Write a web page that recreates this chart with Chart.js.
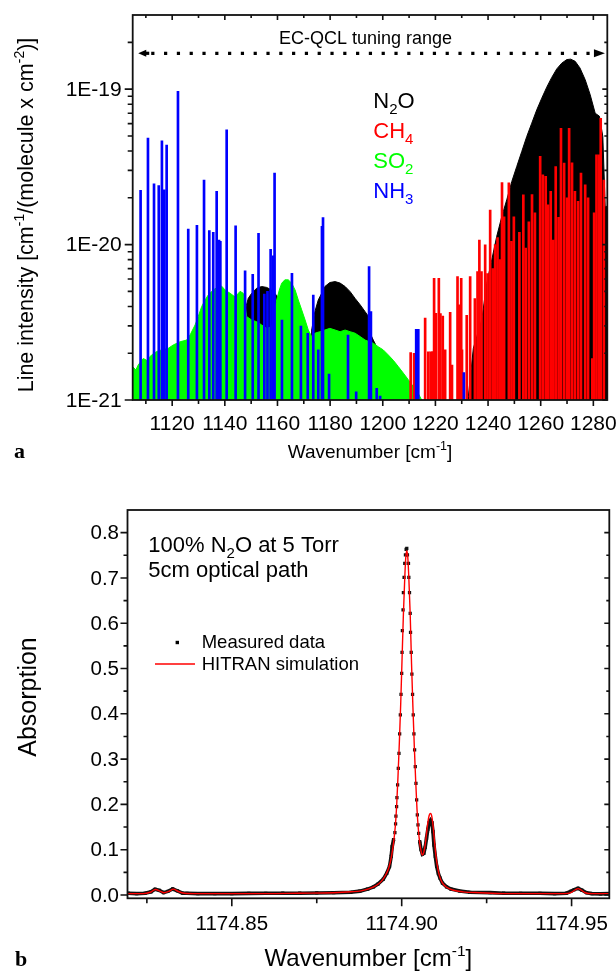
<!DOCTYPE html>
<html><head><meta charset="utf-8">
<script src="https://cdn.jsdelivr.net/npm/chart.js@4.4.1/dist/chart.umd.min.js"></script>
<style>
html,body{margin:0;padding:0;background:#fff;width:616px;height:974px;overflow:hidden;}
canvas{position:absolute;left:0;display:block;}
#ca{top:0;} #cb{top:470px;}
</style></head><body>
<canvas id="ca" width="616" height="470"></canvas>
<canvas id="cb" width="616" height="504"></canvas>
<script>
// ================= DATA: panel a (line intensities) =================
const so2Wavenumber = [1105.0,1106.2,1107.1,1109.0,1110.3,1112.2,1114.1,1116.0,1118.5,1120.4,1123.0,1125.5,1126.8,1128.7,1129.9,1131.2,1132.5,1133.7,1135.6,1137.5,1138.8,1140.1,1142.0,1143.9,1145.8,1147.0,1148.3,1150.2,1152.1,1154.0,1155.9,1157.8,1159.7,1160.7,1161.6,1162.8,1164.1,1165.4,1166.7,1167.9,1169.2,1170.5,1171.7,1173.0,1174.2,1176.1,1178.0,1179.9,1181.9,1183.8,1185.7,1187.6,1189.5,1191.4,1193.3,1196.4,1198.3,1200.2,1202.1,1204.0,1205.9,1207.8,1209.7,1211.6,1213.5,1214.8];
const so2Intensity = [1.64e-21,1.56e-21,1.68e-21,1.85e-21,1.80e-21,1.95e-21,2.05e-21,2.10e-21,2.15e-21,2.26e-21,2.37e-21,2.43e-21,2.62e-21,3.04e-21,3.44e-21,3.99e-21,4.40e-21,4.74e-21,5.10e-21,5.37e-21,5.40e-21,5.10e-21,4.86e-21,4.60e-21,5.00e-21,4.86e-21,3.44e-21,3.27e-21,3.19e-21,3.04e-21,2.89e-21,2.96e-21,4.40e-21,5.10e-21,5.64e-21,5.93e-21,5.93e-21,5.64e-21,5.10e-21,4.40e-21,3.80e-21,3.27e-21,2.82e-21,2.56e-21,2.69e-21,2.75e-21,2.82e-21,2.89e-21,2.82e-21,2.75e-21,2.82e-21,2.75e-21,2.69e-21,2.56e-21,2.43e-21,2.32e-21,2.20e-21,2.10e-21,1.95e-21,1.80e-21,1.64e-21,1.49e-21,1.35e-21,1.22e-21,1.10e-21,1.00e-21];

const n2oBand1Wavenumber = [1147.0,1147.7,1148.9,1150.2,1152.1,1154.0,1155.9,1157.8,1159.7,1161.0,1162.2,1163.0];
const n2oBand1Intensity = [1.0e-21,3.8e-21,4.51e-21,4.86e-21,5.24e-21,5.37e-21,5.30e-21,5.10e-21,4.70e-21,4.30e-21,3.60e-21,1.0e-21];
const n2oBand2Wavenumber = [1172.5,1173.0,1174.2,1175.5,1176.8,1178.0,1179.9,1181.9,1183.8,1185.7,1187.6,1189.5,1191.4,1193.3,1194.6,1195.2,1196.4,1197.7,1199.0,1200.0];
const n2oBand2Intensity = [1.0e-21,2.82e-21,3.70e-21,4.40e-21,4.86e-21,5.37e-21,5.70e-21,5.78e-21,5.65e-21,5.37e-21,4.98e-21,4.50e-21,4.10e-21,3.70e-21,3.44e-21,2.69e-21,2.43e-21,2.20e-21,2.10e-21,1.0e-21];
const n2oBand3Wavenumber = [1231.5,1232.5,1234.4,1235.7,1237.6,1239.5,1241.4,1243.3,1245.2,1247.1,1249.0,1250.9,1252.8,1254.7,1256.6,1258.5,1260.4,1262.3,1264.2,1266.1,1268.0,1269.9,1271.4,1273.1,1274.9,1276.9,1278.8,1280.7,1282.3,1283.6,1284.5,1285.3];
const n2oBand3Intensity = [1.0e-21,1.05e-21,2.15e-21,2.56e-21,3.27e-21,5.64e-21,7.97e-21,1.13e-20,1.51e-20,1.94e-20,2.54e-20,3.18e-20,3.97e-20,4.96e-20,6.04e-20,7.36e-20,8.75e-20,1.03e-19,1.19e-19,1.35e-19,1.47e-19,1.55e-19,1.56e-19,1.51e-19,1.37e-19,1.15e-19,9.2e-20,7.0e-20,6.7e-20,4.96e-20,1.76e-20,1.76e-20];

const ch4Wavenumber = [1210.6,1211.9,1216.1,1217.3,1218.2,1219.0,1219.5,1220.2,1221.3,1221.9,1222.8,1223.7,1225.6,1226.3,1228.4,1229.1,1229.8,1230.1,1231.9,1233.2,1235.0,1236.0,1236.7,1237.5,1238.9,1239.8,1240.8,1241.8,1242.7,1243.6,1244.5,1245.3,1246.1,1247.9,1248.9,1249.8,1251.9,1253.4,1254.3,1255.5,1256.7,1257.8,1259.8,1260.8,1261.9,1262.8,1263.8,1264.8,1265.7,1266.8,1267.7,1268.9,1270.0,1270.8,1271.9,1273.0,1274.2,1275.3,1276.9,1278.0,1279.6,1280.3,1281.2,1282.2,1282.8,1284.0];
const ch4Intensity = [2.02e-21,2.0e-21,3.36e-21,2.04e-21,2.04e-21,2.05e-21,6.07e-21,3.61e-21,6.07e-21,3.6e-21,3.47e-21,2.1e-21,3.67e-21,1.68e-21,6.22e-21,4.09e-21,6.07e-21,2.1e-21,3.5e-21,6.22e-21,4.5e-21,6.7e-21,1.07e-20,6.7e-21,9.95e-21,6.5e-21,1.67e-20,7.0e-21,1.0e-20,1.11e-20,8.0e-21,2.51e-20,1.51e-20,2.5e-20,1.05e-20,1.51e-20,1.2e-20,2.09e-20,9.5e-21,1.4e-20,2.1e-20,1.6e-20,3.69e-20,2.81e-20,2.75e-20,1.8e-20,2.2e-20,1.07e-20,3.18e-20,1.5e-20,5.6e-20,3.34e-20,2.0e-20,5.6e-20,3.36e-20,2.2e-20,1.9e-20,2.88e-20,2.42e-20,2.0e-20,1.85e-21,1.6e-20,3.78e-20,3.78e-20,6.5e-20,2.6e-20];

const nh3Wavenumber = [1108.0,1110.8,1113.1,1114.9,1116.1,1117.0,1117.9,1122.2,1126.1,1129.4,1132.1,1134.1,1135.6,1136.9,1137.8,1138.3,1140.7,1144.1,1147.7,1150.6,1152.8,1155.0,1156.2,1157.4,1158.4,1158.9,1161.7,1165.5,1168.9,1171.5,1173.6,1175.5,1176.9,1177.3,1179.6,1186.8,1189.9,1194.8,1195.5,1197.7,1199.0,1212.7,1213.1,1213.5,1230.8];
const nh3Intensity = [2.23e-20,4.84e-20,2.46e-20,2.40e-20,4.65e-20,2.25e-20,4.36e-20,9.7e-20,1.26e-20,1.33e-20,2.6e-20,1.23e-20,1.2e-20,2.2e-20,1.07e-20,1.05e-20,5.47e-20,1.32e-20,6.77e-21,6.44e-21,1.18e-20,4.8e-21,5.0e-21,9.33e-21,8.46e-21,2.88e-20,3.27e-21,6.54e-21,2.99e-21,2.69e-21,4.74e-21,2.1e-21,1.31e-20,1.49e-20,1.47e-21,2.62e-21,1.13e-21,7.22e-21,3.7e-21,1.19e-21,1.06e-21,2.85e-21,2.85e-21,2.85e-21,1.5e-21];

const tuningRange = [1107.1, 1284.4];
const xMajorA = [1120,1140,1160,1180,1200,1220,1240,1260,1280];
const xMajorLabelsA = ['1120','1140','1160','1180','1200','1220','1240','1260','1280'];
const xMinorA = [1110,1130,1150,1170,1190,1210,1230,1250,1270];
const yMajorA = [1e-21,1e-20,1e-19];
const yMajorLabelsA = ['1E-21','1E-20','1E-19'];
const yMinorA = [2e-21,3e-21,4e-21,5e-21,6e-21,7e-21,8e-21,9e-21,2e-20,3e-20,4e-20,5e-20,6e-20,7e-20,8e-20,9e-20,2e-19];

// ================= DATA: panel b (absorption) =================
const measuredWavenumber = [1174.8195,1174.8220,1174.8245,1174.8262,1174.8274,1174.8287,1174.8299,1174.8312,1174.8326,1174.8340,1174.8355,1174.8368,1174.8400,1174.8450,1174.8500,1174.8550,1174.8600,1174.8650,1174.8700,1174.8750,1174.8800,1174.8850,1174.8877,1174.8900,1174.8917,1174.8930,1174.8946,1174.8956,1174.8964,1174.8969,1174.8972,1174.8976,
1174.8980,1174.8982,1174.8983,1174.8985,1174.8986,1174.8988,1174.8990,1174.8992,1174.8994,1174.8996,1174.8998,1174.9000,1174.9001,1174.9002,1174.9004,1174.9005,1174.9007,1174.9009,1174.9011,1174.9013,1174.9015,1174.9017,1174.9020,1174.9021,1174.9023,1174.9025,1174.9026,1174.9028,1174.9030,1174.9032,1174.9034,1174.9036,1174.9038,1174.9040,1174.9042,1174.9044,1174.9046,1174.9048,1174.9050,
1174.9053,1174.9057,1174.9061,1174.9065,1174.9069,1174.9073,1174.9077,1174.9081,1174.9085,1174.9089,1174.9092,1174.9095,1174.9099,1174.9103,1174.9108,1174.9113,1174.9120,1174.9132,1174.9145,1174.9171,1174.9200,1174.9260,1174.9300,1174.9350,1174.9407,1174.9450,1174.9485,1174.9497,1174.9508,1174.9519,1174.9530,1174.9544,1174.9560,1174.9585,1174.9610];
const measuredAbsorption = [0.004,0.003,0.004,0.007,0.0126,0.010,0.0052,0.008,0.0133,0.009,0.004,0.0037,0.003,0.003,0.003,0.0035,0.0037,0.004,0.004,0.0045,0.005,0.006,0.0085,0.013,0.018,0.024,0.035,0.048,0.0625,0.085,0.107,0.122,
0.1376,0.1568,0.1744,0.1950,0.2149,0.2429,0.2797,0.3128,0.3555,0.3974,0.4431,0.4894,0.5358,0.5837,0.6293,0.6676,0.7014,0.7323,0.7507,0.7632,0.7655,0.7507,0.7323,0.7014,0.6676,0.6219,0.5800,0.5358,0.4879,0.4431,0.3974,0.3555,0.3202,0.2834,0.2466,0.2098,0.1767,0.1546,0.1362,
0.118,0.100,0.090,0.092,0.105,0.125,0.145,0.160,0.165,0.160,0.140,0.110,0.085,0.063,0.047,0.037,0.026,0.018,0.013,0.0088,0.006,0.0052,0.004,0.0037,0.0037,0.003,0.004,0.008,0.012,0.0148,0.011,0.005,0.003,0.0025,0.003];

const simWavenumber = [1174.8193,1174.8240,1174.8260,1174.8275,1174.8290,1174.8300,1174.8315,1174.8328,1174.8342,1174.8360,1174.8400,1174.8500,1174.8600,1174.8700,1174.8800,1174.8850,1174.8880,1174.8905,1174.8925,1174.8940,1174.8952,1174.8962,1174.8970,1174.8976,1174.8981,1174.8985,1174.8989,1174.8993,1174.8997,1174.9001,1174.9005,1174.9009,1174.9012,1174.9015,1174.9018,1174.9021,1174.9025,1174.9029,1174.9033,1174.9037,1174.9041,1174.9045,1174.9049,1174.9053,1174.9057,1174.9061,1174.9065,1174.9069,1174.9073,1174.9077,1174.9081,1174.9085,1174.9089,1174.9093,1174.9097,1174.9101,1174.9106,1174.9112,1174.9120,1174.9132,1174.9150,1174.9180,1174.9230,1174.9300,1174.9400,1174.9480,1174.9500,1174.9510,1174.9519,1174.9528,1174.9540,1174.9560,1174.9611];
const simAbsorption = [0.003,0.003,0.006,0.012,0.008,0.005,0.008,0.013,0.008,0.004,0.003,0.003,0.003,0.004,0.005,0.007,0.009,0.014,0.021,0.030,0.043,0.060,0.085,0.115,0.150,0.195,0.260,0.335,0.420,0.520,0.620,0.700,0.745,0.760,0.745,0.700,0.620,0.510,0.415,0.330,0.255,0.190,0.145,0.115,0.097,0.088,0.094,0.110,0.135,0.160,0.176,0.180,0.172,0.148,0.115,0.085,0.060,0.040,0.026,0.017,0.011,0.007,0.005,0.003,0.003,0.003,0.006,0.011,0.014,0.011,0.005,0.003,0.003];

const xMajorB = [1174.85,1174.90,1174.95];
const xMajorLabelsB = ['1174.85','1174.90','1174.95'];
const xMinorB = [1174.825,1174.875,1174.925];
const yMajorB = [0,0.1,0.2,0.3,0.4,0.5,0.6,0.7,0.8];
const yMajorLabelsB = ['0.0','0.1','0.2','0.3','0.4','0.5','0.6','0.7','0.8'];
const yMinorB = [0.05,0.15,0.25,0.35,0.45,0.55,0.65,0.75];

// ================= helpers =================
const FONT = '"Liberation Sans", Arial, Helvetica, sans-serif';
const SERIF = '"Liberation Serif", "Times New Roman", serif';
const zip = (xs, ys) => xs.map((x, i) => ({x, y: ys[i]}));

function rich(ctx, parts, x, y, align) {
  const widths = parts.map(p => { ctx.font = `${p.bold ? 'bold ' : ''}${p.size}px ${p.family || FONT}`; return ctx.measureText(p.t).width; });
  const total = widths.reduce((s, w) => s + w, 0);
  let cx = align === 'center' ? x - total / 2 : (align === 'right' ? x - total : x);
  ctx.textAlign = 'left'; ctx.textBaseline = 'alphabetic';
  parts.forEach((p, i) => {
    ctx.font = `${p.bold ? 'bold ' : ''}${p.size}px ${p.family || FONT}`;
    ctx.fillStyle = p.color || '#000';
    ctx.fillText(p.t, cx, y + (p.dy || 0));
    cx += widths[i];
  });
}

function drawFrame(chart, s) {
  const {ctx, chartArea: a} = chart; const xs = chart.scales.x, ys = chart.scales.y;
  ctx.save();
  ctx.strokeStyle = '#111'; ctx.lineWidth = 1.6; ctx.lineCap = 'butt';
  ctx.beginPath();
  const seg = (x1, y1, x2, y2) => { ctx.moveTo(x1, y1); ctx.lineTo(x2, y2); };
  s.xMajor.forEach(v => { const p = xs.getPixelForValue(v); seg(p, a.bottom, p, a.bottom + s.xOutMaj); if (s.top) seg(p, a.top, p, a.top + s.inMaj); });
  s.xMinor.forEach(v => { const p = xs.getPixelForValue(v); seg(p, a.bottom, p, a.bottom + s.xOutMin); if (s.top) seg(p, a.top, p, a.top + s.inMin); });
  s.yMajor.forEach(v => { const p = ys.getPixelForValue(v); seg(a.left - s.yOutMaj, p, a.left, p); seg(a.right - s.inMaj, p, a.right, p); });
  s.yMinor.forEach(v => { const p = ys.getPixelForValue(v); seg(a.left - s.yOutMin, p, a.left, p); seg(a.right - s.inMin, p, a.right, p); });
  ctx.stroke();
  ctx.lineWidth = 1.8;
  ctx.strokeRect(a.left, a.top, a.right - a.left, a.bottom - a.top);
  ctx.fillStyle = '#000';
  ctx.font = `${s.tickSize}px ${FONT}`;
  ctx.textAlign = 'center'; ctx.textBaseline = 'alphabetic';
  s.xMajor.forEach((v, i) => ctx.fillText(s.xLabels[i], xs.getPixelForValue(v), a.bottom + s.xLabelDy));
  ctx.textAlign = 'right'; ctx.textBaseline = 'middle';
  s.yMajor.forEach((v, i) => ctx.fillText(s.yLabels[i], a.left - s.yLabelDx, ys.getPixelForValue(v) + 1));
  ctx.restore();
}

// ================= panel a =================
const decorA = {
  id: 'decorA',
  afterDraw(chart) {
    const {ctx, chartArea: a} = chart; const xs = chart.scales.x;
    drawFrame(chart, {xMajor: xMajorA, xMinor: xMinorA, yMajor: yMajorA, yMinor: yMinorA,
      xLabels: xMajorLabelsA, yLabels: yMajorLabelsA, top: true,
      xOutMaj: 6, xOutMin: 4, yOutMaj: 8, yOutMin: 5, inMaj: 5, inMin: 3,
      tickSize: 21, xLabelDy: 29.5, yLabelDx: 11});
    ctx.save();
    const x0 = xs.getPixelForValue(tuningRange[0]), x1 = xs.getPixelForValue(tuningRange[1]);
    const ay = 53.3;
    ctx.strokeStyle = '#000'; ctx.fillStyle = '#000';
    ctx.lineWidth = 3.2; ctx.setLineDash([3.2, 9.6]);
    ctx.beginPath(); ctx.moveTo(x0 + 13, ay); ctx.lineTo(x1 - 12, ay); ctx.stroke();
    ctx.setLineDash([]);
    ctx.beginPath(); ctx.moveTo(x0, ay); ctx.lineTo(x0 + 8, ay - 3.5); ctx.lineTo(x0 + 8, ay + 3.5); ctx.closePath(); ctx.fill();
    ctx.beginPath(); ctx.moveTo(x1, ay); ctx.lineTo(x1 - 11, ay - 4); ctx.lineTo(x1 - 11, ay + 4); ctx.closePath(); ctx.fill();
    ctx.fillRect(x0 + 6, ay - 1.6, 5, 3.2);
    rich(ctx, [{t: 'EC-QCL tuning range', size: 18}], 365.5, 43.5, 'center');
    const L = 373.3, fs = 22, ss = 15;
    rich(ctx, [{t: 'N', size: fs, color: '#000'}, {t: '2', size: ss, dy: 6, color: '#000'}, {t: 'O', size: fs, color: '#000'}], L, 108.3, 'left');
    rich(ctx, [{t: 'CH', size: fs, color: '#ff0000'}, {t: '4', size: ss, dy: 6, color: '#ff0000'}], L, 138.3, 'left');
    rich(ctx, [{t: 'SO', size: fs, color: '#00ff00'}, {t: '2', size: ss, dy: 6, color: '#00ff00'}], L, 168.3, 'left');
    rich(ctx, [{t: 'NH', size: fs, color: '#0000ff'}, {t: '3', size: ss, dy: 6, color: '#0000ff'}], L, 198.3, 'left');
    rich(ctx, [{t: 'Wavenumber [cm', size: 19}, {t: '-1', size: 12.5, dy: -8}, {t: ']', size: 19}], (a.left + a.right) / 2, 458, 'center');
    rich(ctx, [{t: 'a', size: 22, bold: true, family: SERIF}], 14, 458, 'left');
    ctx.save();
    ctx.translate(33, 215); ctx.rotate(-Math.PI / 2);
    rich(ctx, [{t: 'Line intensity [cm', size: 21.5}, {t: '-1', size: 14, dy: -9}, {t: '/(molecule x cm', size: 21.5}, {t: '-2', size: 14, dy: -9}, {t: ')]', size: 21.5}], 0, 0, 'center');
    ctx.restore();
    ctx.restore();
  }
};

const band = (xs, ys, color, order) => ({type: 'line', data: zip(xs, ys), borderColor: color, backgroundColor: color, borderWidth: 1, pointRadius: 0, fill: 'start', tension: 0, order});
const sticks = (xs, ys, color, order) => ({type: 'bar', data: zip(xs, ys), backgroundColor: color, borderWidth: 0, barThickness: 2, grouped: false, order});

new Chart(document.getElementById('ca'), {
  type: 'bar',
  data: {datasets: [
    band(n2oBand1Wavenumber, n2oBand1Intensity, '#000000', 4),
    band(n2oBand2Wavenumber, n2oBand2Intensity, '#000000', 4),
    band(n2oBand3Wavenumber, n2oBand3Intensity, '#000000', 4),
    band(so2Wavenumber, so2Intensity, '#00ff00', 3),
    sticks(ch4Wavenumber, ch4Intensity, '#ff0000', 2),
    sticks(nh3Wavenumber, nh3Intensity, '#0000ff', 1)
  ]},
  options: {
    responsive: false, animation: false, devicePixelRatio: 1, events: [],
    layout: {padding: {left: 132.7, right: 8.7, top: 15, bottom: 70}},
    plugins: {legend: {display: false}, tooltip: {enabled: false}},
    scales: {
      x: {type: 'linear', min: 1105, max: 1285.3, offset: false, display: false, bounds: 'data'},
      y: {type: 'logarithmic', min: 1e-21, max: 3.0e-19, display: false}
    }
  },
  plugins: [decorA]
});

// ================= panel b =================
const decorB = {
  id: 'decorB',
  afterDraw(chart) {
    const {ctx, chartArea: a} = chart;
    drawFrame(chart, {xMajor: xMajorB, xMinor: xMinorB, yMajor: yMajorB, yMinor: yMinorB,
      xLabels: xMajorLabelsB, yLabels: yMajorLabelsB, top: false,
      xOutMaj: 8, xOutMin: 5, yOutMaj: 7, yOutMin: 4, inMaj: 5, inMin: 3,
      tickSize: 20.5, xLabelDy: 31.5, yLabelDx: 8.5});
    ctx.save();
    rich(ctx, [{t: '100% N', size: 22}, {t: '2', size: 15, dy: 6}, {t: 'O at 5 Torr', size: 22}], 148.3, 81.7, 'left');
    rich(ctx, [{t: '5cm optical path', size: 22}], 148.3, 106.7, 'left');
    ctx.fillStyle = '#000'; ctx.fillRect(175.6, 170.8, 3.4, 3.4);
    rich(ctx, [{t: 'Measured data', size: 18.5}], 201.7, 178.3, 'left');
    ctx.strokeStyle = '#ff0000'; ctx.lineWidth = 1.3;
    ctx.beginPath(); ctx.moveTo(155, 194); ctx.lineTo(195, 194); ctx.stroke();
    rich(ctx, [{t: 'HITRAN simulation', size: 18.5}], 201.7, 200, 'left');
    rich(ctx, [{t: 'Wavenumber [cm', size: 24}, {t: '-1', size: 15.5, dy: -10}, {t: ']', size: 24}], (a.left + a.right) / 2, 496, 'center');
    rich(ctx, [{t: 'b', size: 22, bold: true, family: SERIF}], 15, 496, 'left');
    ctx.save();
    ctx.translate(36, 227); ctx.rotate(-Math.PI / 2);
    rich(ctx, [{t: 'Absorption', size: 25}], 0, 0, 'center');
    ctx.restore();
    ctx.restore();
  }
};

new Chart(document.getElementById('cb'), {
  type: 'line',
  data: {datasets: [
    {label: 'HITRAN simulation', data: zip(simWavenumber, simAbsorption), borderColor: '#ff0000', borderWidth: 1.4, pointRadius: 0, cubicInterpolationMode: 'monotone', fill: false, order: 0},
    {label: 'Measured data', data: zip(measuredWavenumber, measuredAbsorption), borderColor: '#000', borderWidth: 3.6, fill: false, tension: 0,
     pointStyle: 'rect', pointRadius: 2.3, pointBackgroundColor: '#111', pointBorderWidth: 0, order: 1,
     segment: {borderColor: c => (Math.max(c.p0.parsed.y, c.p1.parsed.y) < 0.125 || c.p0.parsed.x >= 1174.9061) ? '#111' : 'rgba(0,0,0,0)'}}
  ]},
  options: {
    responsive: false, animation: false, devicePixelRatio: 1, events: [],
    layout: {padding: {left: 127.5, right: 6.7, top: 40, bottom: 75.7}},
    plugins: {legend: {display: false}, tooltip: {enabled: false}},
    scales: {
      x: {type: 'linear', min: 1174.8193, max: 1174.9611, display: false, bounds: 'data'},
      y: {type: 'linear', min: -0.0073, max: 0.85, display: false, bounds: 'data'}
    }
  },
  plugins: [decorB]
});
</script>
</body></html>
